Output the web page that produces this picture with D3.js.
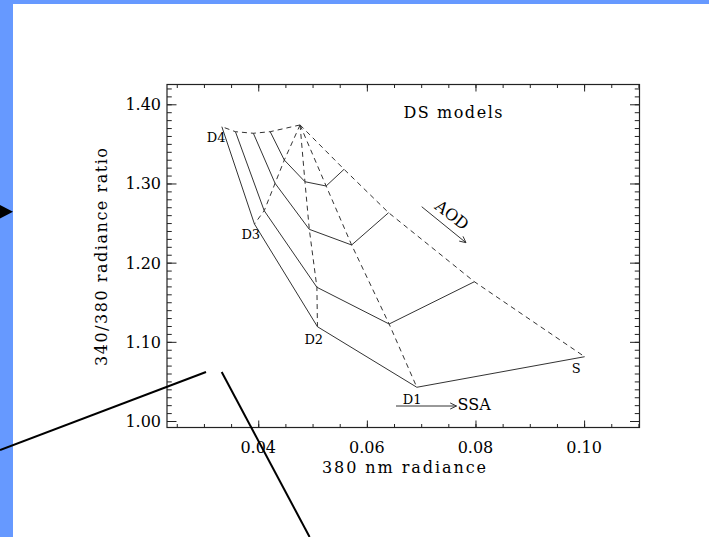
<!DOCTYPE html>
<html>
<head>
<meta charset="utf-8">
<script src="https://cdn.jsdelivr.net/npm/d3@7"></script>
<style>
  html, body { margin: 0; padding: 0; background: #fff; }
  svg { display: block; }
  text { font-family: "DejaVu Serif", serif; fill: #000; }
</style>
</head>
<body>
<svg id="chart" width="709" height="537"></svg>
<script>
// Model names (constant single-scattering albedo curves)
const models = ["D4", "D3", "D2", "D1", "S"];

// Common starting point (zero aerosol optical depth)
const originX = 0.0477;
const originY = 1.3739;

// 380 nm radiance for each model at increasing AOD
const radD4 = [0.0422, 0.0391, 0.0358, 0.0333];
const radD3 = [0.0448, 0.0431, 0.0411, 0.0393];
const radD2 = [0.0486, 0.0494, 0.0508, 0.0509];
const radD1 = [0.0525, 0.0572, 0.0641, 0.0692];
const radS  = [0.0558, 0.0640, 0.0798, 0.1001];

// 340/380 radiance ratio for each model at increasing AOD
const ratioD4 = [1.3654, 1.3634, 1.3654, 1.3717];
const ratioD3 = [1.3296, 1.3002, 1.2656, 1.2488];
const ratioD2 = [1.3022, 1.2421, 1.1689, 1.1191];
const ratioD1 = [1.2968, 1.2223, 1.1225, 1.0426];
const ratioS  = [1.3179, 1.2631, 1.1759, 1.0812];

// Axis ticks
const xTickValues = [0.04, 0.06, 0.08, 0.10];
const yTickValues = [1.00, 1.10, 1.20, 1.30, 1.40];

(function draw() {
  const svg = d3.select("#chart");
  const W = 709, H = 537;

  // Page frame
  svg.append("rect").attr("x", 0).attr("y", 0).attr("width", W).attr("height", H).attr("fill", "#fff");
  svg.append("rect").attr("x", 0).attr("y", 0).attr("width", W).attr("height", 4).attr("fill", "#6699ff");
  svg.append("rect").attr("x", 0).attr("y", 0).attr("width", 13).attr("height", H).attr("fill", "#6699ff");
  svg.append("polygon").attr("points", "0,205 13,211.7 0,218.4").attr("fill", "#000");

  // Plot area
  const pL = 167, pR = 639.5, pT = 84.5, pB = 427.5;
  const x = d3.scaleLinear().domain([0.0232, 0.1102]).range([pL, pR]);
  const y = d3.scaleLinear().domain([0.9918, 1.425]).range([pB, pT]);

  const g = svg.append("g");

  // Ticks on all four sides
  const tickMarks = axisGen => axisGen.tickFormat("").tickSizeOuter(0);
  const xMinor = d3.range(0.025, 0.1101, 0.005);
  const yMinor = d3.range(1.00, 1.4201, 0.01);

  const axes = [
    { gen: d3.axisBottom, sc: x, pos: `translate(0,${pB})`, len: -7, minor: xMinor, major: xTickValues },
    { gen: d3.axisTop, sc: x, pos: `translate(0,${pT})`, len: -7, minor: xMinor, major: xTickValues },
    { gen: d3.axisLeft, sc: y, pos: `translate(${pL},0)`, len: -9.5, minor: yMinor, major: yTickValues },
    { gen: d3.axisRight, sc: y, pos: `translate(${pR},0)`, len: -9.5, minor: yMinor, major: yTickValues }
  ];
  axes.forEach(a => {
    const gm = g.append("g").attr("transform", a.pos)
      .call(tickMarks(a.gen(a.sc).tickValues(a.minor).tickSize(a.len / 2)));
    gm.select(".domain").remove();
    const gM = g.append("g").attr("transform", a.pos)
      .call(tickMarks(a.gen(a.sc).tickValues(a.major).tickSize(a.len)));
    gM.select(".domain").remove();
  });
  g.selectAll(".tick line").attr("stroke", "#222").attr("stroke-width", 1);

  // Box
  g.append("rect").attr("x", pL).attr("y", pT)
    .attr("width", pR - pL).attr("height", pB - pT)
    .attr("fill", "none").attr("stroke", "#222").attr("stroke-width", 1.2);

  // Tick labels
  g.selectAll(".xl").data(xTickValues).enter().append("text")
    .attr("x", d => x(d)).attr("y", 453).attr("text-anchor", "middle")
    .attr("font-size", 16).text(d => d3.format(".2f")(d));
  g.selectAll(".yl").data(yTickValues).enter().append("text")
    .attr("x", 161).attr("y", d => y(d) + 6).attr("text-anchor", "end")
    .attr("font-size", 16).text(d => d3.format(".2f")(d));

  // Axis titles
  g.append("text").attr("x", 322).attr("y", 473).attr("font-size", 16)
    .attr("textLength", 164).attr("lengthAdjust", "spacing").text("380 nm radiance");
  g.append("text").attr("transform", "translate(107,366) rotate(-90)").attr("font-size", 16)
    .attr("textLength", 218).attr("lengthAdjust", "spacing").text("340/380 radiance ratio");

  // Grid of model curves
  const radByModel = [radD4, radD3, radD2, radD1, radS];
  const ratioByModel = [ratioD4, ratioD3, ratioD2, ratioD1, ratioS];
  const line = d3.line().x(d => x(d[0])).y(d => y(d[1]));

  // Dashed: each model from the origin with increasing AOD
  models.forEach((m, i) => {
    const pts = [[originX, originY]].concat(radByModel[i].map((v, k) => [v, ratioByModel[i][k]]));
    g.append("path").attr("d", line(pts)).attr("fill", "none")
      .attr("stroke", "#333").attr("stroke-width", 1).attr("stroke-dasharray", "5,4");
  });

  // Solid: constant AOD across the models
  d3.range(4).forEach(k => {
    const pts = models.map((m, i) => [radByModel[i][k], ratioByModel[i][k]]);
    g.append("path").attr("d", line(pts)).attr("fill", "none")
      .attr("stroke", "#333").attr("stroke-width", 1);
  });

  // Model labels next to the largest-AOD point
  const labelOffsets = { D4: [-15, 15], D3: [-13, 15], D2: [-13, 17], D1: [-14, 17], S: [-13, 16] };
  models.forEach((m, i) => {
    const px = x(radByModel[i][3]), py = y(ratioByModel[i][3]);
    g.append("text").attr("x", px + labelOffsets[m][0]).attr("y", py + labelOffsets[m][1])
      .attr("font-size", 13).text(m);
  });

  // Annotations
  g.append("text").attr("x", 403.5).attr("y", 117.5).attr("font-size", 16)
    .attr("textLength", 99).attr("lengthAdjust", "spacing").text("DS models");

  function arrow(x1, y1, x2, y2) {
    g.append("line").attr("x1", x1).attr("y1", y1).attr("x2", x2).attr("y2", y2)
      .attr("stroke", "#333").attr("stroke-width", 1);
    const a = Math.atan2(y2 - y1, x2 - x1), L = 7, s = 0.45;
    [a + Math.PI - s, a + Math.PI + s].forEach(b => {
      g.append("line").attr("x1", x2).attr("y1", y2)
        .attr("x2", x2 + L * Math.cos(b)).attr("y2", y2 + L * Math.sin(b))
        .attr("stroke", "#333").attr("stroke-width", 1);
    });
  }
  arrow(421.7, 206.7, 466, 242.7);
  g.append("text").attr("transform", "translate(452,215) rotate(38)")
    .attr("text-anchor", "middle").attr("dy", "0.35em").attr("font-size", 16).text("AOD");
  arrow(396, 406, 456.5, 406);
  g.append("text").attr("x", 457.5).attr("y", 410).attr("font-size", 16).text("SSA");

  // Pointer lines
  svg.append("line").attr("x1", 0).attr("y1", 450).attr("x2", 206).attr("y2", 372)
    .attr("stroke", "#000").attr("stroke-width", 2);
  svg.append("line").attr("x1", 221.7).attr("y1", 372).attr("x2", 309.6).attr("y2", 537)
    .attr("stroke", "#000").attr("stroke-width", 2);
})();
</script>
</body>
</html>
